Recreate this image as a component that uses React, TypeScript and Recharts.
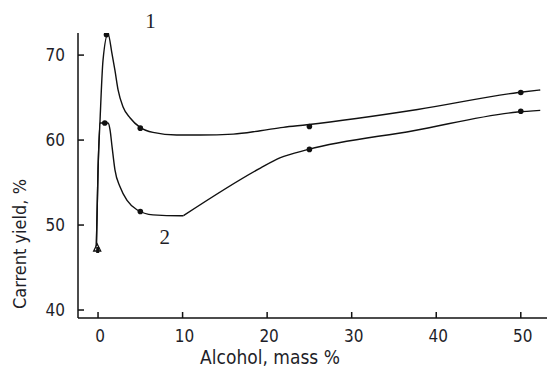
/* Current yield vs alcohol content, curves 1 and 2. */

import { ComposedChart, Label, Line, ReferenceDot, Scatter, XAxis, YAxis } from "recharts";

// traced curve shapes (alcohol mass %, current yield %)
const curve1X = [-0.2, 0.0, 0.24, 0.59, 1.18, 1.66, 2.0, 2.37, 2.96, 3.8, 4.97, 6.5, 9.3, 12.1, 16.0, 19.2, 21.9, 24.7, 37.8, 49.7, 52.3];
const curve1Y = [47.4, 56.5, 62.4, 69.4, 72.5, 70.1, 68.2, 65.9, 63.9, 62.6, 61.5, 60.9, 60.6, 60.6, 60.7, 61.1, 61.5, 61.8, 63.6, 65.6, 65.9];

const curve2X = [-0.2, 0.0, 0.24, 1.18, 1.42, 1.66, 2.0, 2.6, 3.43, 4.6, 6.5, 9.7, 10.1, 19.2, 21.5, 24.9, 37.3, 49.6, 52.3];
const curve2Y = [47.4, 56.5, 62.0, 62.0, 61.2, 59.2, 56.5, 54.5, 52.9, 51.8, 51.2, 51.1, 51.1, 56.7, 57.9, 58.9, 61.1, 63.3, 63.5];
const curve2Corner = 12; // index of the sharp bend at 10 %

// measured points
const dots1X = [1, 5, 25, 50];
const dots1Y = [72.4, 61.4, 61.6, 65.6];
const dots2X = [0.8, 5, 25, 50];
const dots2Y = [62.0, 51.6, 58.9, 63.4];
const startX = [-0.1];
const startY = [47.3];

const xTicks = [0, 10, 20, 30, 40, 50];
const yTicks = [40, 50, 60, 70];

const zip = (xs: number[], ys: number[]) => xs.map((x, i) => ({ x, y: ys[i] }));

const curve1 = zip(curve1X, curve1Y);
const curve2 = zip(curve2X, curve2Y);
const curve2Fall = curve2.slice(0, curve2Corner + 1);
const curve2Rise = curve2.slice(curve2Corner);
const dots = [...zip(dots1X, dots1Y), ...zip(dots2X, dots2Y)];
const start = zip(startX, startY);

const sans = "'DejaVu Sans Condensed', 'DejaVu Sans', sans-serif";
const serif = "'Liberation Serif', 'Times New Roman', serif";
const ink = "#111";
const textInk = "#1e1e28";

function XTick({ x, y, payload }: any) {
  return (
    <g>
      <line x1={x} y1={y} x2={x} y2={y - 6} stroke={ink} strokeWidth={1.5} />
      <text x={x + 2} y={y + 24} textAnchor="middle" fontFamily={sans} fontStretch="condensed" fontSize={17} fill={textInk}>
        {payload.value}
      </text>
    </g>
  );
}

function YTick({ x, y, payload }: any) {
  return (
    <g>
      <line x1={x} y1={y} x2={x + 6} y2={y} stroke={ink} strokeWidth={1.5} />
      <text x={x - 13} y={y + 6} textAnchor="end" fontFamily={sans} fontStretch="condensed" fontSize={17} fill={textInk}>
        {payload.value}
      </text>
    </g>
  );
}

function Dot({ cx, cy }: any) {
  return <circle cx={cx} cy={cy} r={2.8} fill={ink} />;
}

function StartMark({ cx, cy }: any) {
  return (
    <g>
      <path d={`M${cx - 3.5},${cy + 3} L${cx},${cy - 4} L${cx + 3.5},${cy + 3} Z`} fill="#fff" stroke={ink} strokeWidth={1.3} />
      <rect x={cx - 1} y={cy - 1} width={3} height={6} fill={ink} />
    </g>
  );
}

export default function App() {
  return (
    <div style={{ position: "absolute", left: 0, top: 0, width: 547, height: 370, background: "#fff" }}>
      <ComposedChart width={547} height={370} margin={{ top: 33, right: 0, bottom: 0, left: 38 }}>
        <XAxis
          type="number"
          dataKey="x"
          domain={[-2.37, 53.1]}
          ticks={xTicks}
          tick={<XTick />}
          tickSize={0}
          tickMargin={0}
          tickLine={false}
          axisLine={{ stroke: ink, strokeWidth: 1.5 }}
          height={52}
          allowDataOverflow
        >
          <Label
            content={() => (
              <text x={270} y={364} textAnchor="middle" fontFamily={sans} fontStretch="condensed" fontSize={19} fill={textInk}>
                Alcohol, mass %
              </text>
            )}
          />
        </XAxis>
        <YAxis
          type="number"
          dataKey="y"
          domain={[39.06, 72.6]}
          ticks={yTicks}
          tick={<YTick />}
          tickSize={0}
          tickMargin={0}
          tickLine={false}
          axisLine={{ stroke: ink, strokeWidth: 1.5 }}
          width={40}
          allowDataOverflow
        >
          <Label
            content={() => (
              <text
                x={26}
                y={244}
                transform="rotate(-90 26 244)"
                textAnchor="middle"
                fontFamily={sans}
                fontStretch="condensed"
                fontSize={18}
                fill={textInk}
              >
                Carrent yield, %
              </text>
            )}
          />
        </YAxis>
        <Line data={curve1} dataKey="y" type="monotone" stroke={ink} strokeWidth={1.4} dot={false} isAnimationActive={false} />
        <Line data={curve2Fall} dataKey="y" type="monotone" stroke={ink} strokeWidth={1.4} dot={false} isAnimationActive={false} />
        <Line data={curve2Rise} dataKey="y" type="monotone" stroke={ink} strokeWidth={1.4} dot={false} isAnimationActive={false} />
        <Scatter data={dots} dataKey="y" shape={<Dot />} isAnimationActive={false} />
        <Scatter data={start} dataKey="y" shape={<StartMark />} isAnimationActive={false} />
        <ReferenceDot
          x={6.2}
          y={74.1}
          r={0}
          ifOverflow="visible"
          label={{ value: "1", position: "center", fontFamily: serif, fontSize: 21, fill: textInk }}
        />
        <ReferenceDot
          x={7.9}
          y={48.6}
          r={0}
          ifOverflow="visible"
          label={{ value: "2", position: "center", fontFamily: serif, fontSize: 21, fill: textInk }}
        />
      </ComposedChart>
    </div>
  );
}
